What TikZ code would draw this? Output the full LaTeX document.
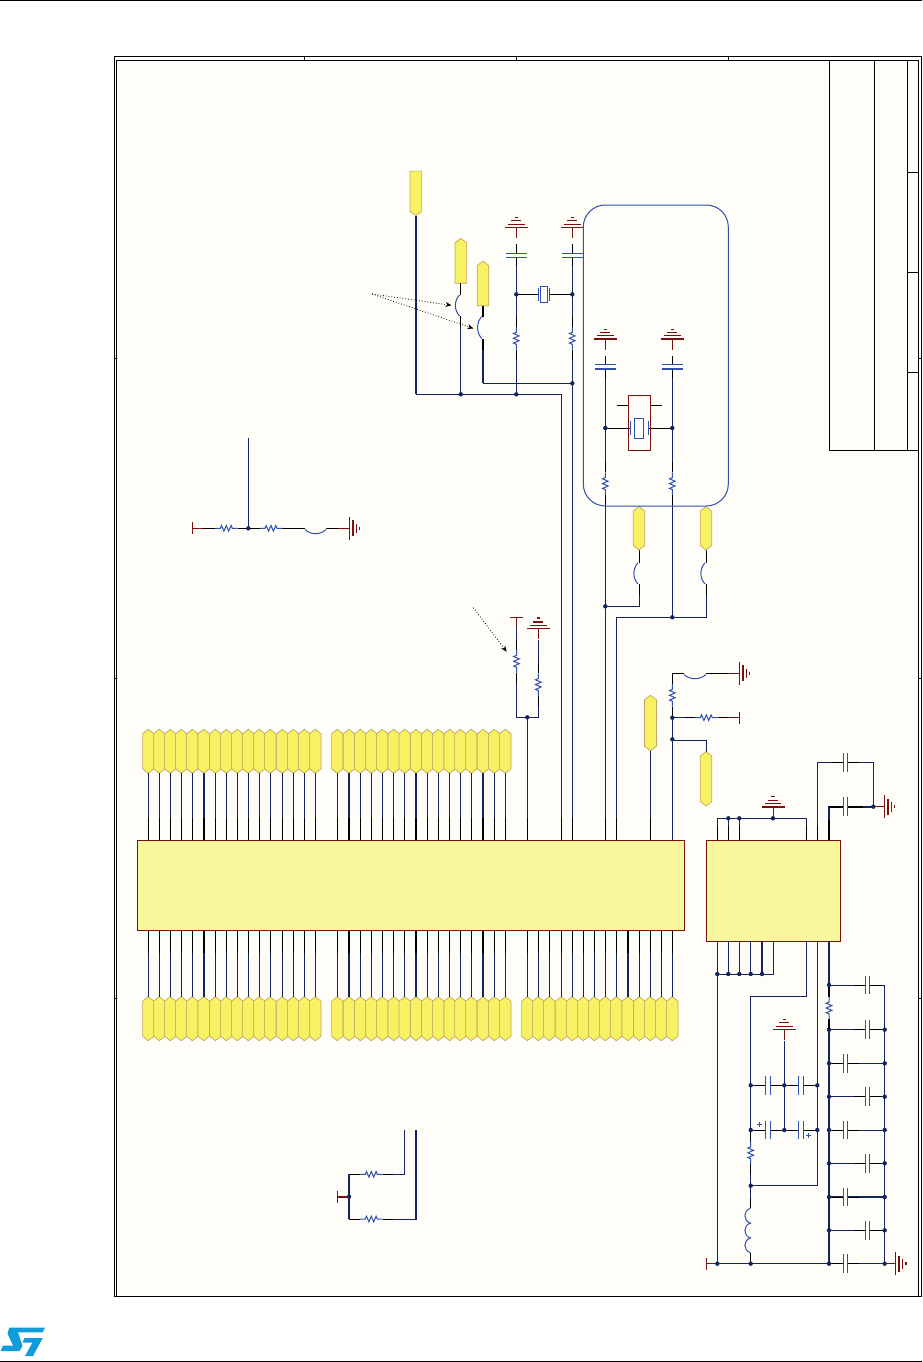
\documentclass[tikz,border=0pt]{standalone}
\usetikzlibrary{arrows.meta}
\definecolor{sheetbg}{HTML}{FFFDF8}
\definecolor{navywire}{HTML}{14245E}
\definecolor{compblue}{HTML}{2F50AC}
\definecolor{darkred}{HTML}{7A1010}
\definecolor{blockfill}{HTML}{F9F79B}
\definecolor{pinfill}{HTML}{F7F263}
\definecolor{pinedge}{HTML}{C4A45E}
\definecolor{stblue}{HTML}{109CDC}
\tikzset{
  frameline/.style={black,line width=1pt},
  wire/.style={navywire,line width=1pt},
  wirebold/.style={navywire,line width=2pt},
  blk/.style={black,line width=1pt},
  comp/.style={compblue,line width=1pt},
  redline/.style={darkred,line width=1pt},
  icblock/.style={rectangle,draw=darkred,fill=blockfill,line width=1pt,inner sep=0pt},
  pinbox/.style={rectangle,inner sep=0pt,outer sep=0pt},
  pinshape/.style={fill=pinfill,draw=pinedge,line width=.7pt,line join=miter},
  note/.style={black,line width=.8pt,dotted,-{Stealth[length=6pt,width=5pt]}},
}
% pins: name, x, y, half width, half height
\newcommand\HexPin[5]{%
  \node[pinbox,minimum width={2*#4*1pt},minimum height={2*#5*1pt}] (#1) at (#2,#3) {};
  \filldraw[pinshape] (#2,#3-#5) -- (#2+#4,#3-#5+4.5) -- (#2+#4,#3+#5-4.5) -- (#2,#3+#5) -- (#2-#4,#3+#5-4.5) -- (#2-#4,#3-#5+4.5) -- cycle;}
\newcommand\PinUp[5]{%
  \node[pinbox,minimum width={2*#4*1pt},minimum height={2*#5*1pt}] (#1) at (#2,#3) {};
  \filldraw[pinshape] (#2,#3-#5) -- (#2+#4,#3-#5+4.5) -- (#2+#4,#3+#5) -- (#2-#4,#3+#5) -- (#2-#4,#3-#5+4.5) -- cycle;}
\newcommand\PinDown[5]{%
  \node[pinbox,minimum width={2*#4*1pt},minimum height={2*#5*1pt}] (#1) at (#2,#3) {};
  \filldraw[pinshape] (#2-#4,#3-#5) -- (#2+#4,#3-#5) -- (#2+#4,#3+#5-4.5) -- (#2,#3+#5) -- (#2-#4,#3+#5-4.5) -- cycle;}
% resistors: [lead width]{x}{y start}
\newcommand\ResV[3][1pt]{%
  \fill[sheetbg] (#2-1.5,#3) rectangle (#2+1.5,#3+22.6);
  \draw[black,line width=#1] (#2,#3-10) -- (#2,#3) (#2,#3+22.6) -- (#2,#3+32.6);
  \draw[comp,line join=miter] (#2,#3) -- ++(0,5.3) -- ++(-2.8,1.2) -- ++(5.6,2.4) -- ++(-5.6,2.4) -- ++(5.6,2.4) -- ++(-5.6,2.4) -- ++(2.8,1.2) -- ++(0,5.3);}
\newcommand\ResH[3][1pt]{%
  \fill[sheetbg] (#2,#3-1.5) rectangle (#2+22.6,#3+1.5);
  \draw[black,line width=#1] (#2-10,#3) -- (#2,#3) (#2+22.6,#3) -- (#2+32.6,#3);
  \draw[comp,line join=miter] (#2,#3) -- ++(5.3,0) -- ++(1.2,-2.8) -- ++(2.4,5.6) -- ++(2.4,-5.6) -- ++(2.4,5.6) -- ++(2.4,-5.6) -- ++(1.2,2.8) -- ++(5.3,0);}
% jumpers: [lead width]{x}{y1}{y2}
\newcommand\JumpV[4][1pt]{%
  \fill[sheetbg] (#2-2,#3) rectangle (#2+2,#4);
  \draw[black,line width=#1] (#2,#3-11) -- (#2,#3) (#2,#4) -- (#2,#4+11);
  \draw[comp] (#2-1.3,#3) .. controls (#2-6.8,#3+6) and (#2-6.8,#4-6) .. (#2-1.3,#4);}
\newcommand\JumpH[3]{%
  \fill[sheetbg] (#1,#3-2) rectangle (#2,#3+2);
  \draw[blk] (#1-11,#3) -- (#1,#3) (#2,#3) -- (#2+11,#3);
  \draw[comp] (#1,#3+1.3) .. controls (#1+6,#3+6.8) and (#2-6,#3+6.8) .. (#2,#3+1.3);}
% capacitors
\newcommand\CapV[4][1pt]{%
  \fill[sheetbg] (#2-1.5,#3) rectangle (#2+1.5,#3+4.3);
  \draw[blk] (#2,#3-9) -- (#2,#3) (#2,#3+4.3) -- (#2,#3+13);
  \draw[comp] (#2-#4,#3) -- (#2+#4,#3);
  \draw[compblue,line width=#1] (#2-#4,#3+4.3) -- (#2+#4,#3+4.3);}
\newcommand\CapH[3]{%
  \fill[sheetbg] (#1,#2-1.5) rectangle (#1+4.5,#2+1.5);
  \draw[blk] (#1-11,#2) -- (#1,#2) (#1+4.5,#2) -- (#1+15.5,#2);
  \draw[comp] (#1,#2-#3) -- (#1,#2+#3) (#1+4.5,#2-#3) -- (#1+4.5,#2+#3);}
% grounds
\newcommand\GndUp[4]{%
  \draw[redline] (#1,#2) -- (#1,#2+11);
  \draw[darkred,line width=#3] (#1-11.5,#2) -- (#1+11.5,#2);
  \draw[redline] (#1-8.2,#2-3.2) -- (#1+8.2,#2-3.2);
  \draw[darkred,line width=#4] (#1-5,#2-6.5) -- (#1+5,#2-6.5) (#1-1.7,#2-10) -- (#1+1.7,#2-10);}
\newcommand\GndRight[2]{%
  \draw[redline] (#1-11,#2) -- (#1,#2);
  \draw[darkred,line width=1pt] (#1,#2-11.5) -- (#1,#2+11.5);
  \draw[darkred,line width=2pt] (#1+3.7,#2-8) -- (#1+3.7,#2+8);
  \draw[redline] (#1+7,#2-4.8) -- (#1+7,#2+4.8);
  \draw[darkred,line width=1.4pt] (#1+10.3,#2-1.7) -- (#1+10.3,#2+1.7);}
\newcommand\TeeUp[2]{\draw[redline] (#1-6.3,#2) -- (#1+6.3,#2) (#1,#2) -- (#1,#2+10);}
\newcommand\TeeLeft[2]{\draw[redline] (#1,#2-6) -- (#1,#2+6) (#1,#2) -- (#1+11,#2);}
\begin{document}
\begin{tikzpicture}[x=1pt,y=-1pt]
\useasboundingbox (0,0) rectangle (922,1362);
\fill[white] (0,0) rectangle (922,1362);
% page rules
\draw[black,line width=1pt] (0,.5) -- (922,.5);
\draw[black,line width=1pt] (0,1361) -- (922,1361);
% logo
\fill[stblue] (9.3,1327.7) -- (45,1327.7) -- (42.6,1332.4) -- (18,1332.4) -- (22.5,1346) -- (19.5,1351) -- (0.7,1351) -- (3,1345.5) -- (13,1345.5) -- (7.5,1333.5) -- cycle;
\fill[stblue] (24.5,1338) -- (42.7,1338) -- (33,1356) -- (25,1356) -- (32.5,1342.5) -- (22.5,1342.5) -- cycle;
% sheet frame
\fill[sheetbg] (116,60.7) rectangle (918,1296);
\draw[frameline] (114.5,56.7) rectangle (921.7,1296.5);
\draw[frameline] (116,60.7) rectangle (918,1296);
\foreach \x in {304,516,728} \draw[frameline] (\x,56.7) -- (\x,60.7);
\foreach \y in {358,678,998} \draw[frameline] (114.5,\y) -- (116,\y) (918,\y) -- (921.7,\y);
% title block
\draw[frameline] (829.5,60.7) -- (829.5,450) -- (918,450);
\draw[frameline] (874,60.7) -- (874,450) (907,60.7) -- (907,450);
\foreach \y in {172,272,372} \draw[frameline] (907,\y) -- (918,\y);

% IC blocks
\node[icblock,minimum width=547.4pt,minimum height=90pt] (ua) at (411,885.4) {};
\node[icblock,minimum width=134pt,minimum height=100.7pt] (ub) at (773.3,890.7) {};

% bus pins
\foreach \x/\w [count=\i] in {148.3/1,159.3/1,170.3/1,181.3/1,192.3/1,203.7/2,215.3/1,226.3/1,237.3/1,248.3/1,259.3/1,270.3/1,282.3/1,293.3/1,304.3/1,315.3/1,
  337.3/1,349/2,360.3/1,371.3/1,382.3/1,393.7/1,404.7/1,416/2,427.3/1,438.3/1,449.7/1,460.3/1,471.3/1,483/2,494.3/1,505.3/1}{
  \HexPin{tp\i}{\x}{751.3}{5.7}{22}
  \HexPin{bp\i}{\x}{1018.7}{5.7}{22}
  \draw[navywire,line width=\w pt] (tp\i.south) -- (tp\i.south |- ua.north);
  \draw[black,line width=\w pt] (\x,818) -- (tp\i.south |- ua.north);
  \draw[navywire,line width=\w pt] (bp\i.north) -- (bp\i.north |- ua.south);
  \draw[black,line width=\w pt] (\x,953) -- (bp\i.north |- ua.south);
}
\foreach \x/\w [count=\i] in {527.3/1,538.3/1,549.3/1,561.3/1,572.3/1,583.3/1,594.3/1,605.3/1,616.3/1,627.7/2,639.3/1,650.3/1,661.3/1,672.3/1}{
  \HexPin{cp\i}{\x}{1018.7}{5.7}{22}
  \draw[navywire,line width=\w pt] (cp\i.north) -- (cp\i.north |- ua.south);
  \draw[black,line width=\w pt] (\x,953) -- (cp\i.north |- ua.south);
}

% signal pins above the block
\PinDown{pa}{415.8}{193.4}{5.8}{22.3}
\PinUp{pb}{460.8}{260.8}{5.8}{22.5}
\PinUp{pc}{483}{283.4}{5.8}{22.3}
\HexPin{pd}{639}{528.3}{5.7}{21.7}
\HexPin{pe}{706}{528.3}{5.7}{21.7}
\HexPin{pf}{650.4}{723}{6}{27.7}
\HexPin{pg}{706}{778.8}{5.7}{27.2}

% junctions
\coordinate (jb) at (460.8,394.3);
\coordinate (jc) at (516.3,394.3);
\coordinate (jd) at (516.3,294.3);
\coordinate (je) at (572.3,294.3);
\coordinate (jf) at (572.3,383.3);
\coordinate (jg) at (605.3,428);
\coordinate (jh) at (672.3,428);
\coordinate (ji) at (605.3,606.3);
\coordinate (jj) at (672.3,617.3);
\coordinate (jk) at (527.3,717.3);
\coordinate (jl) at (672.3,717.7);
\coordinate (jm) at (672.3,739.3);
\coordinate (jn) at (248.3,528.3);
\coordinate (jo) at (349,1196.7);
\coordinate (jp) at (728.3,818.3);
\coordinate (jq) at (739.3,818.3);
\coordinate (jr) at (773,818.3);
\coordinate (js) at (873.3,806.7);
\foreach \x/\n in {717.3/1,728.3/2,739.3/3,750.7/4,762/5}{\coordinate (ju\n) at (\x,974);}
\coordinate (ka) at (750.7,1085.3);
\coordinate (kb) at (784.3,1085.3);
\coordinate (kc) at (817.3,1085.3);
\coordinate (kd) at (750.7,1130);
\coordinate (ke) at (784.3,1130);
\coordinate (kf) at (817.3,1130);
\coordinate (kg) at (750.7,1185.7);
\coordinate (kh) at (750.7,1263.7);
\coordinate (ki) at (717.3,1263.7);
\coordinate (kj) at (829,1263.7);
\coordinate (kk) at (884.7,1263.7);
\coordinate (kl) at (829,985);

% crystal section wiring
\draw[wirebold] (pa.south) -- (pa.south |- jb);
\draw[wire] (pa.south |- jb) -- (jb) -- (jc) -- (561.3,394.3) -- (561.3,840.3);
\draw[wire] (pb.south) -- (jb);
\draw[wirebold] (pc.south) -- (483,383.3);
\draw[wire] (483,383.3) -- (jf);
\draw[wire] (516.3,257) -- (jd) -- (jc);
\draw[wire] (572.3,257) -- (572.3,840.3);
\draw[blk] (jd) -- (je);
\draw[wire] (605.3,369) -- (605.3,840.3);
\draw[wire] (672.3,369) -- (jj);
\draw[blk] (jg) -- (jh);
\draw[wire] (ji) -- (pd.south |- ji) -- (pd.south);
\draw[wire] (616.3,840.3) -- (616.3,617.3) -- (jj) -- (pe.south |- jj) -- (pe.south);
\draw[wire] (516.5,627) -- (516.5,717.3) -- (538.3,717.3) -- (538.3,640);
\draw[wire] (jk) -- (527.3,840.3);
\foreach \x in {527.3,561.3,572.3,605.3,616.3,672.3}{\draw[blk] (\x,818) -- (\x,840.3);}
\draw[blk] (650.4,818) -- (650.4,840.3);
\draw[wire] (pf.south) -- (650.4,818);

% lower network
\draw[wire] (672.3,673.3) -- (672.3,840.3);
\draw[blk] (672.3,673.3) -- (684,673.3);
\draw[blk] (706,673.3) -- (739.3,673.3);
\draw[wire] (jl) -- (739.3,717.7);
\draw[wire] (jm |- 0,740.3) -- (pg.north |- 0,740.3) -- (pg.north);

% left network
\draw[wire] (248.3,438.3) -- (jn);
\draw[blk] (203,528.3) -- (305,528.3) (326,528.3) -- (338,528.3);
% bottom left network
\draw[wirebold] (349,1174.3) -- (349,1219);
\draw[wire] (349,1174.3) -- (404.3,1174.3) -- (404.3,1130);
\draw[wire] (349,1219) -- (416,1219);
\draw[wirebold] (416,1220) -- (416,1130);

% right block top
\draw[wire] (717.3,840.3) -- (717.3,818.3) -- (806.7,818.3) -- (806.7,840.3);
\draw[wire] (jp) -- (728.3,840.3) (jq) -- (739.3,840.3) (jr) -- (773,806.7);
\draw[wire] (817.3,840.3) -- (817.3,762.7) -- (873.3,762.7) -- (js);
\draw[wirebold] (829,840.3) -- (829,805.7);
\draw[wirebold] (829,806.7) -- (js);
\foreach \x in {717.3,728.3,739.3,806.7,817.3}{\draw[blk] (\x,826) -- (\x,840.3);}
\draw[black,line width=2pt] (829,820) -- (829,840.3);

% right block bottom
\foreach \x/\w in {717.3/1,728.3/1,739.3/1,750.7/1,762/2,773/1,806.7/1,817.3/1,829/2}{
  \draw[black,line width=\w pt] (\x,941) -- (\x,953);}
\draw[wire] (717.3,941) -- (ki);
\draw[wire] (728.3,941) -- (ju2);
\draw[wire] (739.3,941) -- (ju3);
\draw[wire] (750.7,941) -- (ju4);
\draw[wirebold] (762,941) -- (ju5);
\draw[wire] (773,941) -- (773,974) -- (ju1);
\draw[wire] (806.7,941) -- (806.7,996) -- (750.7,996) -- (kg);
\draw[wire] (817.3,941) -- (817.3,1185.7) -- (kg);
\draw[wire] (kg) -- (kh);
\draw[wirebold] (829,941) -- (kj);
\draw[wire] (ki) -- (kk);
\draw[wire] (kl) -- (884.7,985) -- (kk);
\draw[wire] (ka) -- (kc) (kd) -- (kf);
\draw[wire] (784.3,1041) -- (ke);
\foreach \y/\xp/\w [count=\i] in {1029.7/865.3/1,1063.3/843.3/1,1096.7/865.3/1,1130/843.3/1,1163.3/865.3/1,1197/843.3/2,1230.3/865.3/1}{
  \coordinate (rl\i) at (829,\y);
  \coordinate (rr\i) at (884.7,\y);
  \draw[navywire,line width=\w pt] (rl\i) -- (rr\i);
  \CapH{\xp}{\y}{9.3}
  \fill[navywire] (rl\i) circle (2.2) (rr\i) circle (2.2);
}
\CapH{865.3}{985}{9.3}
\CapH{843.3}{1263.7}{9.3}
\ResV[2pt]{829}{996.7}

% crystal section components
\GndUp{516.3}{227.3}{1pt}{1pt}
\GndUp{572.3}{227.3}{1pt}{1pt}
\CapV{516.3}{253.3}{10.5}
\CapV{572.3}{253.3}{10.5}
\fill[sheetbg] (538.3,292) rectangle (549.7,296);
\draw[comp] (538.3,288) -- (538.3,300.6) (549.7,288) -- (549.7,300.6);
\draw[comp] (540.7,286) rectangle (547.7,302.7);
\ResV{516.3}{327}
\ResV{572.3}{327}
\JumpV{460.8}{295}{316}
\JumpV[2pt]{483}{316.5}{338.5}

% rounded box
\draw[compblue,line width=1pt,rounded corners=22pt] (583.3,205) rectangle (728.3,506);

\GndUp{605.3}{339}{2pt}{1pt}
\GndUp{672.3}{339}{2pt}{1pt}
\CapV[2pt]{605.3}{364.5}{10.5}
\CapV[2pt]{672.3}{364.5}{10.5}
\node[draw=darkred,line width=1pt,rectangle,inner sep=0pt,minimum width=22pt,minimum height=55pt] (xb) at (639.3,422.8) {};
\draw[blk] (616.7,405.3) -- (xb.west |- 0,405.3) (xb.east |- 0,405.3) -- (661.7,405.3);
\fill[sheetbg] (630,426) rectangle (648.7,430);
\draw[comp] (630,420.7) -- (630,435.3) (648.7,420.7) -- (648.7,435.3);
\draw[comp] (634.3,418.3) rectangle (643.7,438.3);
\ResV{605.3}{472.3}
\ResV{672.3}{472.3}
\JumpV{639.3}{562.7}{584}
\JumpV{706.3}{562.7}{584}

% reference network
\TeeUp{516.5}{617.3}
\GndUp{538.3}{628.3}{1pt}{2pt}
\ResV{516.5}{650}
\ResV{538.3}{673.3}

\JumpH{684}{706}{673.3}
\GndRight{739.3}{673.3}
\ResV{672.3}{684}
\ResH{695}{717.7}
\draw[redline] (739.3,711.7) -- (739.3,723.7) (739.3,717.7) -- (728,717.7);

% left network components
\TeeLeft{192.3}{528.3}
\ResH{215}{528.3}
\ResH{259.7}{528.3}
\draw[comp] (305,529.6) .. controls (311,535.1) and (320,535.1) .. (326,529.6);
\GndRight{349}{528.3}

% bottom left components
\TeeLeft{337.3}{1196.7}
\draw[darkred,line width=2pt] (337.3,1196.7) -- (348,1196.7);
\ResH{360}{1174.3}
\ResH{360}{1219}

% right block top components
\GndUp{773}{806.7}{2pt}{1pt}
\CapH{843.3}{762.7}{9.3}
\CapH{843.3}{806.7}{9.3}
\draw[black,line width=2pt] (829,806.7) -- (843.3,806.7) (847.8,806.7) -- (863,806.7);
\GndRight{884.3}{806.7}
\draw[redline] (873.3,806.7) -- (884.3,806.7);

% right block bottom components
\GndUp{784.3}{1029.3}{1pt}{1pt}
\CapH{765.7}{1085.3}{9.3}
\CapH{798.7}{1085.3}{9.3}
\CapH{765.7}{1130}{9.3}
\CapH{798.7}{1130}{9.3}
\draw[comp] (756.7,1124.3) -- (761.9,1124.3) (759.3,1121.7) -- (759.3,1126.9);
\draw[comp] (805.7,1135.3) -- (810.9,1135.3) (808.3,1132.7) -- (808.3,1137.9);
\ResV{750.7}{1141.5}
% inductor
\fill[sheetbg] (749,1208.3) rectangle (752.4,1252.7);
\draw[comp] (750.5,1208.3) .. controls (743,1210.3) and (743,1221.1) .. (750.5,1223.1) .. controls (743,1225.1) and (743,1235.9) .. (750.5,1237.9) .. controls (743,1239.9) and (743,1250.7) .. (750.5,1252.7);
\draw[blk] (750.7,1198) -- (750.7,1208.3) (750.7,1252.7) -- (750.7,1263);
\TeeLeft{706.3}{1263.7}
\GndRight{895.7}{1263.7}

% notes
\coordinate (na) at (372,294);
\coordinate (nb) at (473.3,607.7);
\draw[note] (na) -- (451.5,305.3);
\draw[note] (na) -- (473.5,328.5);
\draw[note] (nb) -- (506.7,651.7);

% junction dots
\foreach \c in {jb,jc,jd,je,jf,jg,jh,ji,jj,jk,jl,jm,jn,jo,jp,jq,jr,js,ju1,ju2,ju3,ju4,ju5,ka,kb,kc,kd,ke,kf,kg,kh,ki,kj,kk,kl}{
  \fill[navywire] (\c) circle (2.2);}
\end{tikzpicture}
\end{document}
